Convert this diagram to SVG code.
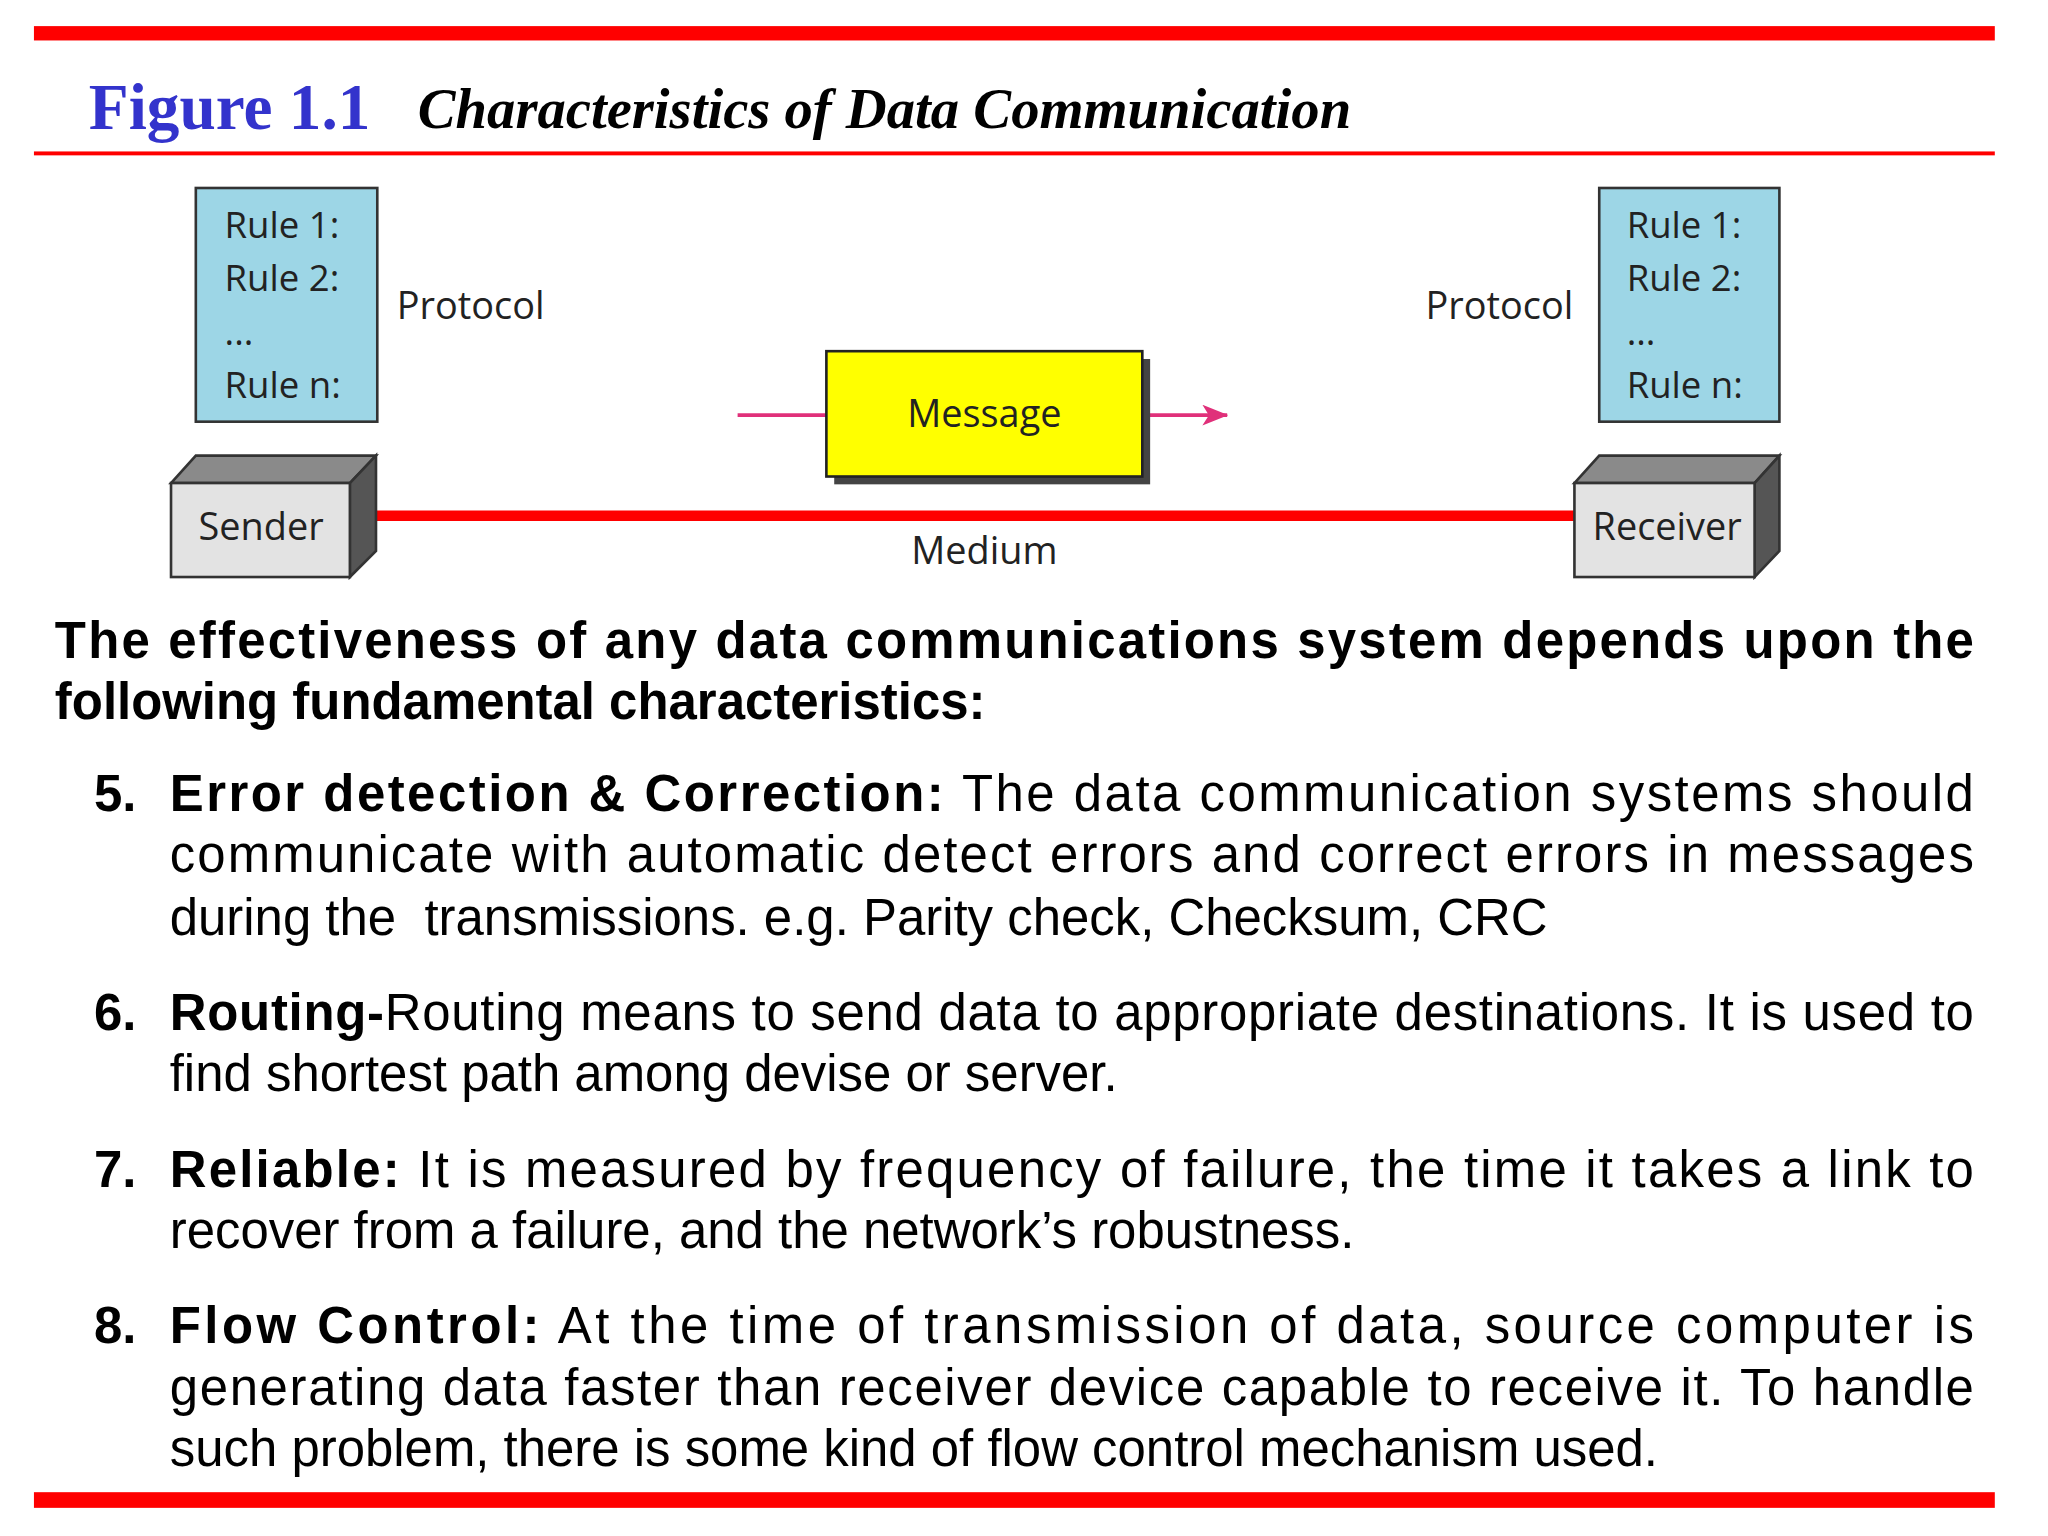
<svg xmlns="http://www.w3.org/2000/svg" width="2048" height="1536" viewBox="0 0 2048 1536">
<style>
.rule{font-family:"Open Sans","DejaVu Sans",sans-serif;font-size:28px;fill:#222}
.lbl{font-family:"Open Sans","DejaVu Sans",sans-serif;font-size:29px;fill:#222}
.body{font-family:"Liberation Sans",Arial,sans-serif;font-size:39px;fill:#000}
.b{font-weight:bold}
</style>
<defs>
<marker id="ah" markerWidth="20" markerHeight="16" refX="19" refY="8" orient="auto" markerUnits="userSpaceOnUse"><path d="M0,0 L20,8 L0,16 L5,8 Z" fill="#e0307a"/></marker>
</defs>
<rect width="2048" height="1536" fill="#fff"/>
<g transform="scale(1.3055)">
<rect x="26" y="20" width="1502" height="11" fill="#ff0000"/>
<rect x="26" y="116" width="1502" height="3" fill="#ff0000"/>
<rect x="26" y="1143" width="1502" height="12" fill="#ff0000"/>
<text x="68" y="99" font-family="Liberation Serif,serif" font-size="50" font-weight="bold" fill="#3333cc">Figure 1.1</text>
<text x="320" y="98" font-family="Liberation Serif,serif" font-size="43" font-weight="bold" font-style="italic" fill="#000" textLength="715" lengthAdjust="spacingAndGlyphs">Characteristics of Data Communication</text>

<g id="connectors">
<line x1="280" y1="395" x2="1208" y2="395" stroke="#ff0000" stroke-width="8"/>
<line x1="565" y1="318" x2="633" y2="318" stroke="#e0307a" stroke-width="3"/>
<line x1="877" y1="318" x2="940" y2="318" stroke="#e0307a" stroke-width="3" marker-end="url(#ah)"/>
</g>

<g id="protocol-left">
<rect x="150" y="144" width="139" height="179" fill="#9dd6e6" stroke="#333" stroke-width="2"/>
<text class="rule" x="172" y="182">Rule 1:</text>
<text class="rule" x="172" y="223">Rule 2:</text>
<text class="rule" x="172" y="264">...</text>
<text class="rule" x="172" y="305">Rule n:</text>
<text class="lbl" x="304" y="244">Protocol</text>
</g>
<g id="protocol-right">
<rect x="1225" y="144" width="138" height="179" fill="#9dd6e6" stroke="#333" stroke-width="2"/>
<text class="rule" x="1246" y="182">Rule 1:</text>
<text class="rule" x="1246" y="223">Rule 2:</text>
<text class="rule" x="1246" y="264">...</text>
<text class="rule" x="1246" y="305">Rule n:</text>
<text class="lbl" x="1092" y="244">Protocol</text>
</g>
<g id="message">
<rect x="639" y="275" width="242" height="96" fill="#444"/>
<rect x="633" y="269" width="242" height="96" fill="#ffff00" stroke="#222" stroke-width="2"/>
<text class="lbl" x="754" y="327" text-anchor="middle">Message</text>
</g>
<g id="sender">
<polygon points="131,370 150,349 288,349 268,370" fill="#8a8a8a" stroke="#333" stroke-width="2"/>
<polygon points="268,370 288,349 288,422 268,442" fill="#555" stroke="#333" stroke-width="2"/>
<rect x="131" y="370" width="137" height="72" fill="#e3e3e3" stroke="#333" stroke-width="2"/>
<text class="lbl" x="200" y="414" text-anchor="middle">Sender</text>
</g>
<g id="receiver">
<polygon points="1206,370 1225,349 1363,349 1344,370" fill="#8a8a8a" stroke="#333" stroke-width="2"/>
<polygon points="1344,370 1363,349 1363,422 1344,442" fill="#555" stroke="#333" stroke-width="2"/>
<rect x="1206" y="370" width="138" height="72" fill="#e3e3e3" stroke="#333" stroke-width="2"/>
<text class="lbl" x="1277" y="414" text-anchor="middle">Receiver</text>
</g>
<text class="lbl" x="754" y="432" text-anchor="middle">Medium</text>

<g id="body">
<text class="body b" x="42" y="504" textLength="1470" lengthAdjust="spacing">The effectiveness of any data communications system depends upon the</text>
<text class="body b" x="42" y="551">following fundamental characteristics:</text>

<text class="body b" x="72" y="621">5.</text>
<text class="body" x="130" y="621" textLength="1382" lengthAdjust="spacing"><tspan class="b">Error detection &amp; Correction:</tspan> The data communication systems should</text>
<text class="body" x="130" y="668" textLength="1382" lengthAdjust="spacing">communicate with automatic detect errors and correct errors in messages</text>
<text class="body" x="130" y="716" xml:space="preserve">during the  transmissions. e.g. Parity check, Checksum, CRC</text>

<text class="body b" x="72" y="789">6.</text>
<text class="body" x="130" y="789" textLength="1382" lengthAdjust="spacing"><tspan class="b">Routing-</tspan>Routing means to send data to appropriate destinations. It is used to</text>
<text class="body" x="130" y="836">find shortest path among devise or server.</text>

<text class="body b" x="72" y="909">7.</text>
<text class="body" x="130" y="909" textLength="1382" lengthAdjust="spacing"><tspan class="b">Reliable:</tspan> It is measured by frequency of failure, the time it takes a link to</text>
<text class="body" x="130" y="956">recover from a failure, and the network’s robustness.</text>

<text class="body b" x="72" y="1029">8.</text>
<text class="body" x="130" y="1029" textLength="1382" lengthAdjust="spacing"><tspan class="b">Flow Control:</tspan> At the time of transmission of data, source computer is</text>
<text class="body" x="130" y="1076" textLength="1382" lengthAdjust="spacing">generating data faster than receiver device capable to receive it. To handle</text>
<text class="body" x="130" y="1123">such problem, there is some kind of flow control mechanism used.</text>
</g>
</g>
</svg>
